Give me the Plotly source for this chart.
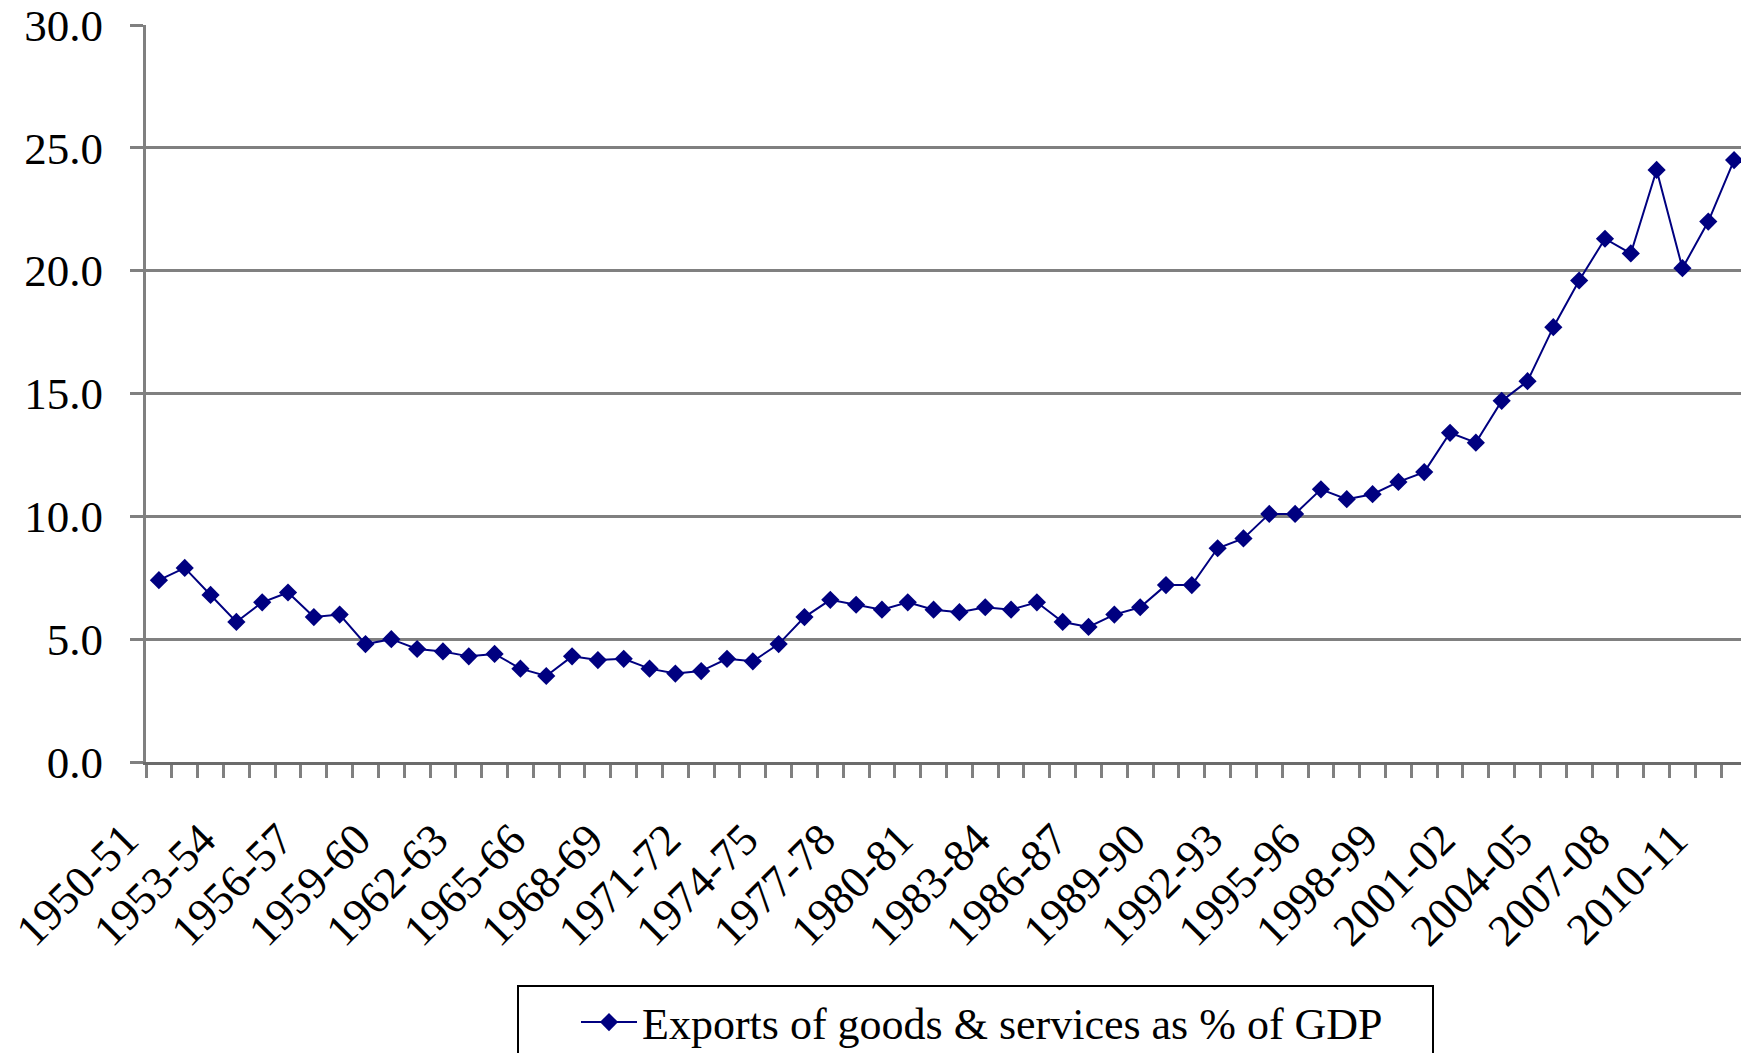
import plotly.graph_objects as go

years = [
    "1950-51", "1951-52", "1952-53", "1953-54", "1954-55", "1955-56", "1956-57", "1957-58",
    "1958-59", "1959-60", "1960-61", "1961-62", "1962-63", "1963-64", "1964-65", "1965-66",
    "1966-67", "1967-68", "1968-69", "1969-70", "1970-71", "1971-72", "1972-73", "1973-74",
    "1974-75", "1975-76", "1976-77", "1977-78", "1978-79", "1979-80", "1980-81", "1981-82",
    "1982-83", "1983-84", "1984-85", "1985-86", "1986-87", "1987-88", "1988-89", "1989-90",
    "1990-91", "1991-92", "1992-93", "1993-94", "1994-95", "1995-96", "1996-97", "1997-98",
    "1998-99", "1999-00", "2000-01", "2001-02", "2002-03", "2003-04", "2004-05", "2005-06",
    "2006-07", "2007-08", "2008-09", "2009-10", "2010-11", "2011-12",
]

exports_pct_gdp = [
    7.4, 7.9, 6.8, 5.7, 6.5, 6.9, 5.9, 6.0,
    4.8, 5.0, 4.6, 4.5, 4.3, 4.4, 3.8, 3.5,
    4.3, 4.15, 4.2, 3.8, 3.6, 3.7, 4.2, 4.1,
    4.8, 5.9, 6.6, 6.4, 6.2, 6.5, 6.2, 6.1,
    6.3, 6.2, 6.5, 5.7, 5.5, 6.0, 6.3, 7.2,
    7.2, 8.7, 9.1, 10.1, 10.1, 11.1, 10.7, 10.9,
    11.4, 11.8, 13.4, 13.0, 14.7, 15.5, 17.7, 19.6,
    21.3, 20.7, 24.1, 20.1, 22.0, 24.5,
]

series_name = "Exports of goods & services as % of GDP"
y_ticks = [0, 5, 10, 15, 20, 25, 30]
label_every = 3

FONT = "Liberation Serif"
GRID = "#808080"

# the page adds an 8px body margin, so the figure is 8px smaller and margins shifted
W, H = 1741, 1045
ML, MR, MT, MB = 138, 2, 17, 291
PW, PH = W - ML - MR, H - MT - MB


def px_x(page_x):
    return (page_x - 8 - ML) / PW


def px_y(page_y):
    return (H - MB - (page_y - 8)) / PH


idx = list(range(len(years)))
label_pos = idx[::label_every]
label_txt = years[::label_every]
boundaries = [i - 0.5 for i in range(len(years) + 1)]

fig = go.Figure()
fig.add_trace(go.Scatter(
    x=idx, y=exports_pct_gdp, mode="lines+markers", name=series_name,
    line=dict(color="#000080", width=2),
    marker=dict(symbol="diamond", size=14, color="#000080"),
))

fig.update_layout(
    width=W, height=H,
    margin=dict(l=ML, r=MR, t=MT, b=MB, autoexpand=False),
    paper_bgcolor="white", plot_bgcolor="white",
    font=dict(family=FONT, size=44, color="black"),
    showlegend=True,
    legend=dict(
        x=px_x(576), y=px_y(987), xanchor="left", yanchor="top",
        orientation="h", itemwidth=56,
        font=dict(family=FONT, size=44, color="black"),
        bgcolor="rgba(0,0,0,0)", borderwidth=0,
    ),
    xaxis=dict(
        range=[-0.5, len(years) - 0.5], automargin=False,
        tickmode="array", tickvals=label_pos, ticktext=label_txt,
        tickangle=-45, ticks="", ticklabelstandoff=30, ticklabelshift=-34,
        ticklabeloverflow="allow",
        showgrid=False, zeroline=False,
        showline=True, linecolor="#6b6b6b", linewidth=3,
        tickfont=dict(family=FONT, size=45, color="black"),
        minor=dict(tickmode="array", tickvals=boundaries, ticks="outside",
                   ticklen=13, tickwidth=3, tickcolor=GRID, showgrid=False),
    ),
    yaxis=dict(
        range=[0, 30], tickmode="array", tickvals=y_ticks, automargin=False,
        tickformat=".1f", ticks="outside", ticklen=13, tickwidth=3, tickcolor=GRID,
        showgrid=True, gridcolor=GRID, gridwidth=3,
        zeroline=False, showline=True, linecolor=GRID, linewidth=3,
        ticklabelstandoff=18, ticklabeloverflow="allow",
        tickfont=dict(family=FONT, size=45, color="black"),
    ),
    shapes=[dict(
        type="rect", xref="paper", yref="paper",
        x0=px_x(518), x1=px_x(1433),
        y0=px_y(1075), y1=px_y(986),
        line=dict(color="black", width=2), fillcolor="rgba(0,0,0,0)", layer="above",
    )],
)

fig.write_html("out.html")
